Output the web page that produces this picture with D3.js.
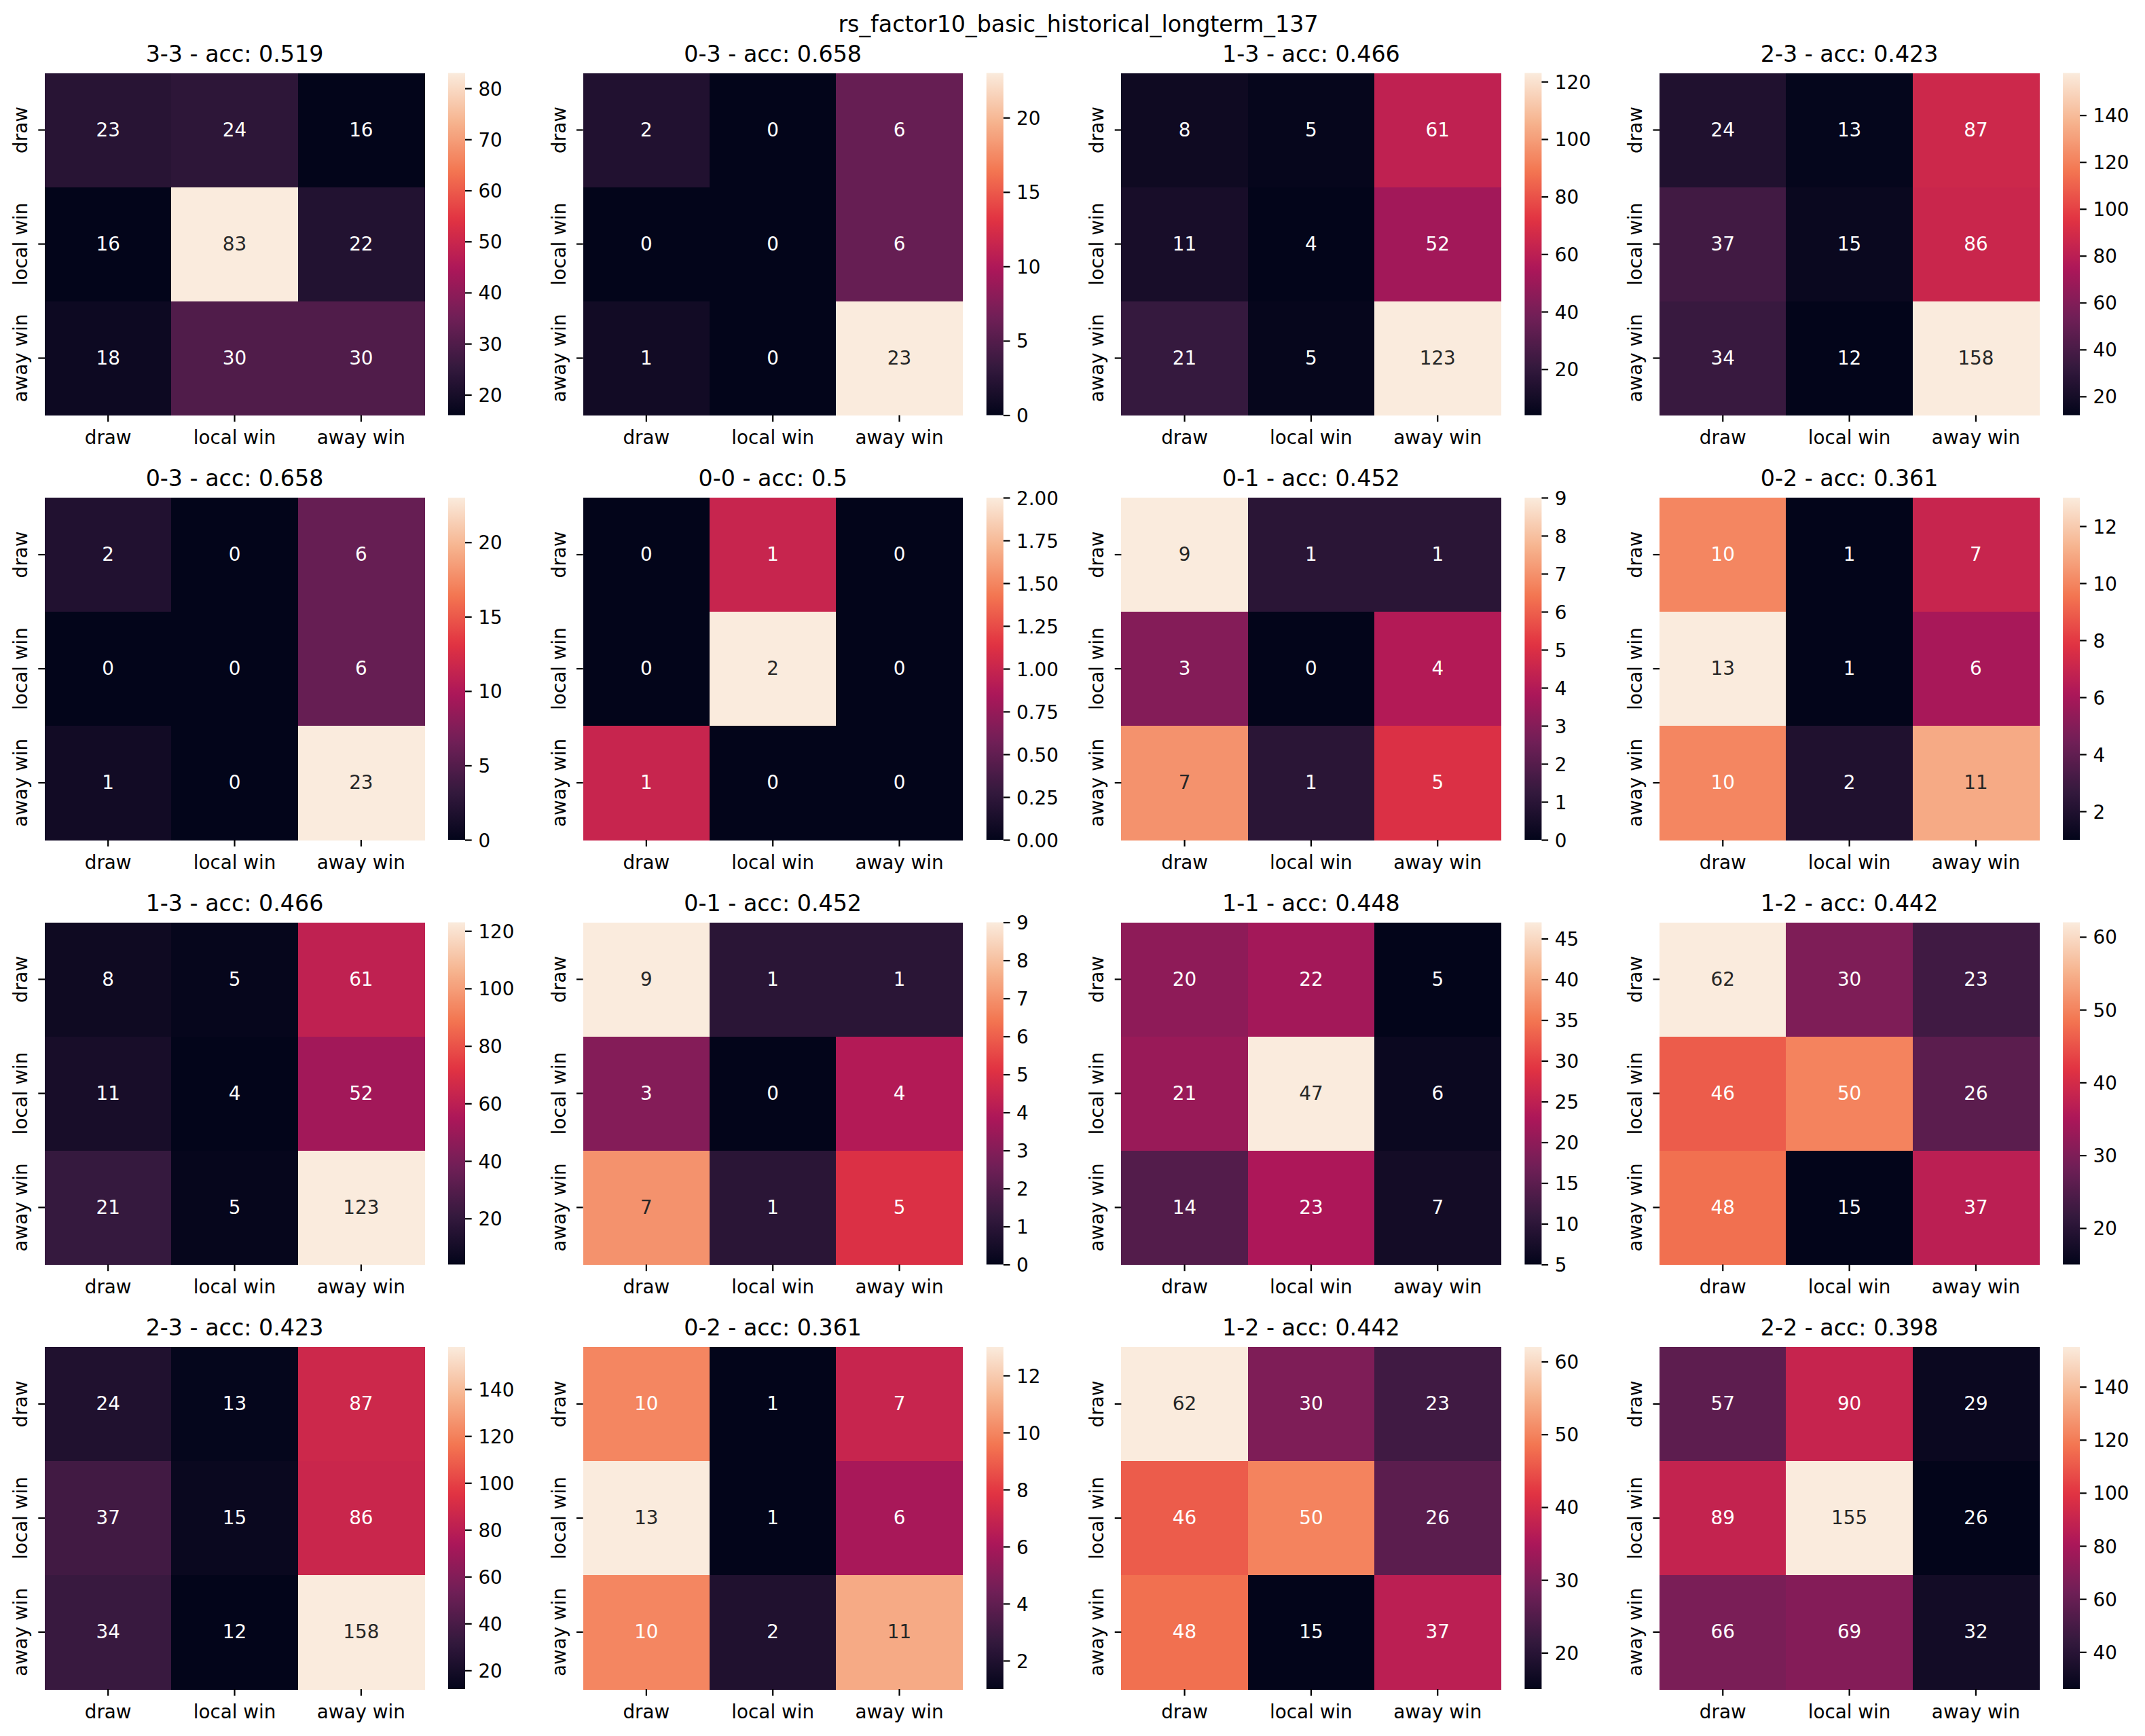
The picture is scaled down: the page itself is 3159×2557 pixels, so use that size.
<!DOCTYPE html>
<html>
<head>
<meta charset="utf-8">
<script src="https://cdn.jsdelivr.net/npm/d3@7"></script>
<style>
  body { margin: 0; background: #fff; }
  text { font-family: "DejaVu Sans", sans-serif; }
</style>
</head>
<body>
<svg id="chart"></svg>
<script>
// ---- data ----
const suptitle = "rs_factor10_basic_historical_longterm_137";
const categories = ["draw", "local win", "away win"];

const panelNames = ["3-3", "0-3", "1-3", "2-3",
                    "0-3", "0-0", "0-1", "0-2",
                    "1-3", "0-1", "1-1", "1-2",
                    "2-3", "0-2", "1-2", "2-2"];
const panelAcc = ["0.519", "0.658", "0.466", "0.423",
                  "0.658", "0.5", "0.452", "0.361",
                  "0.466", "0.452", "0.448", "0.442",
                  "0.423", "0.361", "0.442", "0.398"];

const m33 = [[23, 24, 16], [16, 83, 22], [18, 30, 30]];
const m03 = [[2, 0, 6], [0, 0, 6], [1, 0, 23]];
const m13 = [[8, 5, 61], [11, 4, 52], [21, 5, 123]];
const m23 = [[24, 13, 87], [37, 15, 86], [34, 12, 158]];
const m00 = [[0, 1, 0], [0, 2, 0], [1, 0, 0]];
const m01 = [[9, 1, 1], [3, 0, 4], [7, 1, 5]];
const m02 = [[10, 1, 7], [13, 1, 6], [10, 2, 11]];
const m11 = [[20, 22, 5], [21, 47, 6], [14, 23, 7]];
const m12 = [[62, 30, 23], [46, 50, 26], [48, 15, 37]];
const m22 = [[57, 90, 29], [89, 155, 26], [66, 69, 32]];

const panelMatrices = [m33, m03, m13, m23,
                       m03, m00, m01, m02,
                       m13, m01, m11, m12,
                       m23, m02, m12, m22];

// colorbar ticks of each panel
const t33 = [20, 30, 40, 50, 60, 70, 80];
const t03 = [0, 5, 10, 15, 20];
const t13 = [20, 40, 60, 80, 100, 120];
const t23 = [20, 40, 60, 80, 100, 120, 140];
const t00 = [0, 0.25, 0.5, 0.75, 1, 1.25, 1.5, 1.75, 2];
const t01 = [0, 1, 2, 3, 4, 5, 6, 7, 8, 9];
const t02 = [2, 4, 6, 8, 10, 12];
const t11 = [5, 10, 15, 20, 25, 30, 35, 40, 45];
const t12 = [20, 30, 40, 50, 60];
const t22 = [40, 60, 80, 100, 120, 140];
const panelTicks = [t33, t03, t13, t23,
                    t03, t00, t01, t02,
                    t13, t01, t11, t12,
                    t23, t02, t12, t22];

// seaborn "rocket" anchor colours
const rocketStops = ["#03051a", "#35193e", "#701f57", "#ad1759",
                     "#e13342", "#f37651", "#f6b48f", "#faebdd"];
const rocket = d3.piecewise(d3.interpolateRgb, rocketStops);

// ---- layout ----
const W = 3159, H = 2557;
const left0 = 66, colStep = 792.7;
const top0 = 107.5, rowStep = 625.5;
const heatW = 559, heatH = 504;
const cbGap = 35, cbW = 25;
const tickLen = 9.7, tickPad = 9.7;
const fsTitle = 33.3, fsTick = 27.8;

const svg = d3.select("#chart").attr("width", W).attr("height", H);
const defs = svg.append("defs");

svg.append("text")
    .attr("x", 1588).attr("y", 46.5)
    .attr("text-anchor", "middle")
    .style("font-size", fsTitle + "px")
    .text(suptitle);

const luminance = c => {
    const rgb = d3.rgb(c);
    const lin = v => { v = v / 255; return v <= 0.03928 ? v / 12.92 : Math.pow((v + 0.055) / 1.055, 2.4); };
    return 0.2126 * lin(rgb.r) + 0.7152 * lin(rgb.g) + 0.0722 * lin(rgb.b);
};

const x = d3.scaleBand().domain(categories).range([0, heatW]);
const y = d3.scaleBand().domain(categories).range([0, heatH]);

const drawPanel = (i) => {
    const row = Math.floor(i / 4), col = i % 4;
    const mat = panelMatrices[i];
    const flat = mat.flatMap((r, ri) => r.map((v, ci) => ({row: categories[ri], col: categories[ci], v})));
    const vmin = d3.min(flat, d => d.v), vmax = d3.max(flat, d => d.v);
    const color = d3.scaleSequential(rocket).domain([vmin, vmax]);

    const g = svg.append("g")
        .attr("transform", `translate(${left0 + col * colStep}, ${top0 + row * rowStep})`);

    g.append("text")
        .attr("x", heatW / 2).attr("y", -16.7)
        .attr("text-anchor", "middle")
        .style("font-size", fsTitle + "px")
        .text(`${panelNames[i]} - acc: ${panelAcc[i]}`);

    g.selectAll("rect.cell")
        .data(flat)
        .join("rect")
        .attr("class", "cell")
        .attr("x", d => x(d.col))
        .attr("y", d => y(d.row))
        .attr("width", x.bandwidth() + 0.5)
        .attr("height", y.bandwidth() + 0.5)
        .attr("fill", d => color(d.v))
        .attr("shape-rendering", "crispEdges");

    g.selectAll("text.annot")
        .data(flat)
        .join("text")
        .attr("class", "annot")
        .attr("x", d => x(d.col) + x.bandwidth() / 2)
        .attr("y", d => y(d.row) + y.bandwidth() / 2)
        .attr("dy", "0.34em")
        .attr("text-anchor", "middle")
        .style("font-size", fsTick + "px")
        .attr("fill", d => luminance(color(d.v)) > 0.408 ? "#262626" : "#ffffff")
        .text(d => d.v);

    // x axis
    const xAxis = g.append("g")
        .attr("transform", `translate(0, ${heatH})`)
        .call(d3.axisBottom(x).tickSize(tickLen).tickPadding(tickPad));
    xAxis.select(".domain").remove();
    xAxis.selectAll("line").attr("stroke", "#000").attr("stroke-width", 2.2);
    xAxis.selectAll("text")
        .attr("y", 42.5).attr("dy", 0)
        .attr("fill", "#000")
        .style("font-size", fsTick + "px")
        .style("font-family", "DejaVu Sans");

    // y axis, labels turned on their side
    const yAxis = g.append("g")
        .call(d3.axisLeft(y).tickSize(tickLen).tickPadding(tickPad));
    yAxis.select(".domain").remove();
    yAxis.selectAll("line").attr("stroke", "#000").attr("stroke-width", 2.2);
    yAxis.selectAll("text")
        .attr("transform", "rotate(-90)")
        .attr("x", 0).attr("y", -26).attr("dy", 0)
        .attr("text-anchor", "middle")
        .attr("fill", "#000")
        .style("font-size", fsTick + "px")
        .style("font-family", "DejaVu Sans");

    // colorbar
    const gradId = `grad${i}`;
    const grad = defs.append("linearGradient")
        .attr("id", gradId)
        .attr("x1", 0).attr("y1", 1).attr("x2", 0).attr("y2", 0);
    d3.range(0, 1.0001, 1 / 64).forEach(t => {
        grad.append("stop")
            .attr("offset", t)
            .attr("stop-color", color(vmin + t * (vmax - vmin)));
    });
    const cb = g.append("g").attr("transform", `translate(${heatW + cbGap}, 0)`);
    cb.append("rect")
        .attr("width", cbW).attr("height", heatH)
        .attr("fill", `url(#${gradId})`);

    const cbScale = d3.scaleLinear().domain([vmin, vmax]).range([heatH, 0]);
    const ticks = panelTicks[i];
    const fmt = ticks.some(t => !Number.isInteger(t)) ? d3.format(".2f") : d3.format("d");
    const cbAxis = cb.append("g")
        .attr("transform", `translate(${cbW}, 0)`)
        .call(d3.axisRight(cbScale).tickValues(ticks).tickFormat(fmt)
            .tickSize(tickLen).tickPadding(tickPad));
    cbAxis.select(".domain").remove();
    cbAxis.selectAll("line").attr("stroke", "#000").attr("stroke-width", 2.2);
    cbAxis.selectAll("text")
        .attr("dy", "0.36em")
        .attr("fill", "#000")
        .style("font-size", fsTick + "px")
        .style("font-family", "DejaVu Sans");
};

panelNames.forEach((name, i) => drawPanel(i));
</script>
</body>
</html>
